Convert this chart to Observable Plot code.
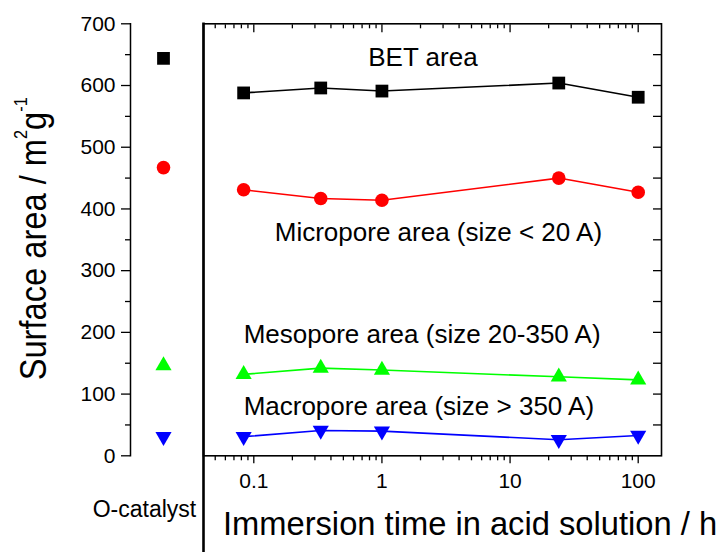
<!DOCTYPE html>
<html>
<head>
<meta charset="utf-8">
<script src="https://cdn.jsdelivr.net/npm/d3@7"></script>
<script src="https://cdn.jsdelivr.net/npm/@observablehq/plot@0.6"></script>
<style>
  body { margin: 0; background: #fff; }
  #chart { position: relative; width: 722px; height: 552px; font-family: "Liberation Sans", Arial, sans-serif; }
  #chart svg { position: absolute; left: 0; top: 0; }
</style>
</head>
<body>
<div id="chart"></div>
<script>
// ---- data ----
const times = [0.0833, 0.333, 1, 24, 100];          // immersion time, h
const betArea = [588, 596, 591, 604, 581];
const microArea = [431, 417, 414, 450, 427];
const mesoArea = [132, 142, 139, 128, 123];
const macroArea = [31, 41, 40, 26, 33];
const catalystCategory = ["O-catalyst"];
const catalystValues = [644, 467, 146, 31];         // BET, micro, meso, macro
const seriesNames = [
  "BET area",
  "Micropore area (size < 20 A)",
  "Mesopore area (size 20-350 A)",
  "Macropore area (size > 350 A)"
];
const yMajorTicks = [0, 100, 200, 300, 400, 500, 600, 700];
const yMinorTicks = [50, 150, 250, 350, 450, 550, 650];
const yRightTicks = [50, 100, 150, 200, 250, 300, 350, 400, 450, 500, 550, 600, 650];
const xMajorTicks = [0.1, 1, 10, 100];
const xMinorTicks = [0.05, 0.06, 0.07, 0.08, 0.09, 0.2, 0.3, 0.4, 0.5, 0.6, 0.7, 0.8, 0.9,
                     2, 3, 4, 5, 6, 7, 8, 9, 20, 30, 40, 50, 60, 70, 80, 90];
const xTitle = "Immersion time in acid solution / h";
const yTitle = "Surface area / m2g-1";

// ---- styling ----
const sqrt3 = Math.sqrt(3);
const triangleDown = {
  draw(context, size) {
    const y = -Math.sqrt(size / (sqrt3 * 3));
    context.moveTo(0, -y * 2);
    context.lineTo(-sqrt3 * y, y);
    context.lineTo(sqrt3 * y, y);
    context.closePath();
  }
};
const seriesValues = [betArea, microArea, mesoArea, macroArea];
const seriesColors = ["#000000", "#ff0000", "#00ff00", "#0000ff"];
const seriesSymbols = ["square", "circle", "triangle", triangleDown];
const seriesR = [7.2, 6.8, 6.0, 6.0];

const rows = seriesNames.flatMap((name, i) =>
  times.map((t, j) => ({series: name, time: t, value: seriesValues[i][j]})));
const catRows = seriesNames.map((name, i) => ({series: name, cat: catalystCategory[0], value: catalystValues[i]}));

const W = 722, H = 552;
const mTop = 23.3, mBottom = 96.7;
const yScale = {domain: [0, 700], range: [H - mBottom, mTop], label: null};
const font = "'Liberation Sans', Arial, sans-serif";

// ---- left panel (O-catalyst) ----
const left = Plot.plot({
  width: 203, height: H,
  marginLeft: 130, marginRight: 0, marginTop: mTop, marginBottom: mBottom,
  style: {fontFamily: font, fontSize: "21px", color: "#000", background: "transparent", overflow: "visible"},
  x: {type: "point", domain: catalystCategory, range: [163, 163], label: null},
  y: yScale,
  marks: [
    Plot.frame({anchor: "left", strokeWidth: 1.5}),
    Plot.axisY(yMajorTicks, {anchor: "left", tickSize: 9, tickPadding: 6, fontSize: 21, strokeWidth: 1.3, label: null}),
    Plot.axisY(yMinorTicks, {anchor: "left", tickSize: 5, tickFormat: () => "", strokeWidth: 1.3, label: null}),
    Plot.axisX(catalystCategory, {anchor: "bottom", tickSize: 0, tickPadding: 45, fontSize: 23, dx: -19, label: null}),
    ...seriesNames.map((name, i) =>
      Plot.dot(catRows.filter(d => d.series === name), {
        x: "cat", y: "value", symbol: seriesSymbols[i], fill: seriesColors[i], r: seriesR[i]
      })),
    Plot.text([yTitle], {frameAnchor: "left", textAnchor: "middle", rotate: -90, dx: -96.5, dy: -1, fontSize: 36, lineAnchor: "middle"})
  ]
});

// ---- right panel (log time axis) ----
const right = Plot.plot({
  width: W, height: H,
  marginLeft: 203, marginRight: 61, marginTop: mTop, marginBottom: mBottom,
  style: {fontFamily: font, fontSize: "21px", color: "#000", background: "transparent", overflow: "visible"},
  x: {type: "log", domain: [0.1, 100], range: [253.3, 637.7], label: null},
  y: yScale,
  marks: [
    Plot.frame({strokeWidth: 1.6}),
    Plot.frame({anchor: "left", strokeWidth: 2.6, insetBottom: -(mBottom + 2)}),
    Plot.axisX(xMajorTicks, {anchor: "bottom", tickSize: 8, tickPadding: 9, fontSize: 21, strokeWidth: 1.3, tickFormat: d => String(d), label: null}),
    Plot.axisX(xMinorTicks, {anchor: "bottom", tickSize: 5, tickFormat: () => "", strokeWidth: 1.3, label: null}),
    Plot.axisX(xMajorTicks, {anchor: "top", tickSize: -8, tickFormat: () => "", strokeWidth: 1.3, label: null}),
    Plot.axisX(xMinorTicks, {anchor: "top", tickSize: -4, tickFormat: () => "", strokeWidth: 1.3, label: null}),
    Plot.axisY(yRightTicks, {anchor: "right", tickSize: -9, tickFormat: () => "", strokeWidth: 1.3, label: null}),
    ...seriesNames.map((name, i) =>
      Plot.line(rows.filter(d => d.series === name), {x: "time", y: "value", stroke: seriesColors[i], strokeWidth: 1.6})),
    ...seriesNames.map((name, i) =>
      Plot.dot(rows.filter(d => d.series === name), {
        x: "time", y: "value", symbol: seriesSymbols[i], fill: seriesColors[i], r: seriesR[i]
      })),
    Plot.text([seriesNames[0]], {x: [2.09], y: [645], fontSize: 26, textAnchor: "middle"}),
    Plot.text([seriesNames[1]], {x: [2.76], y: [361], fontSize: 26, textAnchor: "middle"}),
    Plot.text([seriesNames[2]], {x: [times[0]], y: [196], fontSize: 26, textAnchor: "start"}),
    Plot.text([seriesNames[3]], {x: [times[0]], y: [79], fontSize: 26, textAnchor: "start"}),
    Plot.text([xTitle], {frameAnchor: "bottom", textAnchor: "middle", dx: 37.5, dy: 69, fontSize: 32.7, lineAnchor: "middle"})
  ]
});

const chart = document.getElementById("chart");
chart.appendChild(left);
chart.appendChild(right);

// superscripts in the y-axis title, and the reference's narrower glyph run
for (const t of left.querySelectorAll("text")) {
  if (t.textContent === yTitle) {
    while (t.firstChild) t.removeChild(t.firstChild);
    const parts = [["Surface area / m", 0], ["2", 1], ["g", 0], ["-1", 1]];
    const ns = "http://www.w3.org/2000/svg";
    let shifted = false;
    for (const [s, sup] of parts) {
      const ts = document.createElementNS(ns, "tspan");
      ts.textContent = s;
      if (sup) { ts.setAttribute("font-size", "18"); ts.setAttribute("dy", "-19"); shifted = true; }
      else if (shifted) { ts.setAttribute("dy", "19"); shifted = false; }
      t.appendChild(ts);
    }
    const len = t.getComputedTextLength();
    const tr = t.getAttribute("transform") || "";
    t.setAttribute("transform", `${tr} scale(${(283 / len).toFixed(3)},1)`);
  }
}
</script>
</body>
</html>
